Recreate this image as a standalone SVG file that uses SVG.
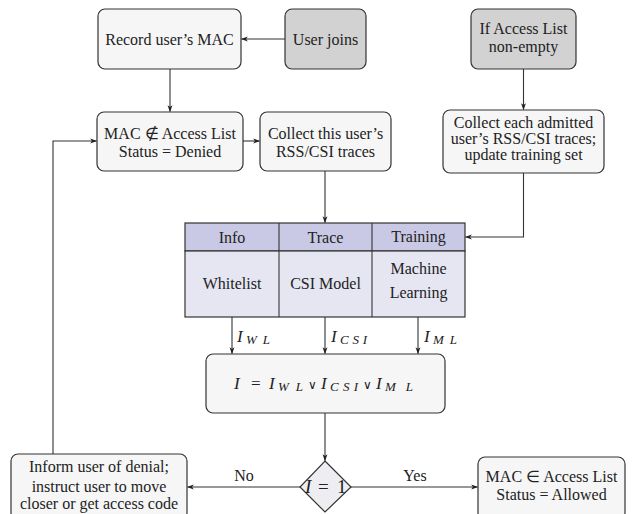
<svg xmlns="http://www.w3.org/2000/svg" width="641" height="514" viewBox="0 0 641 514">
<defs>
<marker id="ah" viewBox="0 0 10 10" refX="9" refY="5" markerWidth="7" markerHeight="7" markerUnits="userSpaceOnUse" orient="auto">
<path d="M0,1.5 L10,5 L0,8.5 L2.5,5 Z" fill="#222"/>
</marker>
</defs>
<style>
text{font-family:"Liberation Serif","Times New Roman",serif;font-size:16px;fill:#222;text-anchor:middle}
.box{fill:#f6f6f6;stroke:#333;stroke-width:1.2}
.start{fill:#d2d2d2;stroke:#333;stroke-width:1.2}
.hdr{fill:#c9c9e5;stroke:#333;stroke-width:1.2}
.body{fill:#e6e6f3;stroke:#333;stroke-width:1.2}
.line{fill:none;stroke:#333;stroke-width:1.1}
.arr{fill:none;stroke:#333;stroke-width:1.1;marker-end:url(#ah)}
text.m{font-style:italic;font-size:17px;text-anchor:start}
text.sub{font-style:italic;font-size:13px;text-anchor:start}
text.eq{font-size:17px;text-anchor:start}
text.or{font-size:12px;text-anchor:start;font-family:"DejaVu Serif",serif}
</style>
<g id="record">
<rect class="box" x="98" y="9" width="143" height="60" rx="7"/>
<text x="169.5" y="45">Record user’s MAC</text>
</g>
<g id="userjoins">
<rect class="start" x="285" y="9" width="81" height="60" rx="7"/>
<text x="325.5" y="45">User joins</text>
</g>
<g id="ifaccess">
<rect class="start" x="471" y="9" width="105" height="60" rx="7"/>
<text x="523.5" y="34">If Access List</text>
<text x="523.5" y="52">non-empty</text>
</g>
<g id="denied">
<rect class="box" x="97" y="112" width="146" height="59" rx="7"/>
<text x="170" y="139">MAC ∉ Access List</text>
<text x="170" y="157">Status = Denied</text>
</g>
<g id="collectthis">
<rect class="box" x="260" y="112" width="131" height="59" rx="7"/>
<text x="325.5" y="139">Collect this user’s</text>
<text x="325.5" y="157">RSS/CSI traces</text>
</g>
<g id="collecteach">
<rect class="box" x="443" y="110" width="161" height="63" rx="7"/>
<text x="523.5" y="128">Collect each admitted</text>
<text x="523.5" y="144">user’s RSS/CSI traces;</text>
<text x="523.5" y="160">update training set</text>
</g>
<g id="table">
<rect class="hdr" x="185" y="223" width="280" height="28"/>
<rect class="body" x="185" y="251" width="280" height="66"/>
<line class="line" x1="279" y1="223" x2="279" y2="317"/>
<line class="line" x1="372" y1="223" x2="372" y2="317"/>
<text x="232" y="243">Info</text>
<text x="325.5" y="243">Trace</text>
<text x="418.5" y="242">Training</text>
<text x="232" y="289">Whitelist</text>
<text x="325.5" y="289">CSI Model</text>
<text x="418.5" y="274">Machine</text>
<text x="418.5" y="298">Learning</text>
</g>
<g id="formula">
<rect class="box" x="206" y="354" width="239" height="59" rx="7"/>
<text class="m" x="234" y="389">I</text>
<text class="eq" x="251" y="389">=</text>
<text class="m" x="269" y="389">I</text>
<text class="sub" x="278" y="391" textLength="25" lengthAdjust="spacing">WL</text>
<text class="or" x="308" y="389">∨</text>
<text class="m" x="321" y="389">I</text>
<text class="sub" x="330" y="391" textLength="28" lengthAdjust="spacing">CSI</text>
<text class="or" x="363" y="389">∨</text>
<text class="m" x="376" y="389">I</text>
<text class="sub" x="385" y="391" textLength="28" lengthAdjust="spacing">ML</text>
</g>
<g id="decision">
<polygon points="325,461 351,487 325,512 300,487" fill="#eeeef2" stroke="#333" stroke-width="1.2"/>
<text class="m" x="305" y="493" style="font-size:19px">I</text>
<text class="eq" x="318" y="493" style="font-size:19px">=</text>
<text x="337" y="493" style="font-size:19px;text-anchor:start">1</text>
</g>
<g id="inform">
<rect class="box" x="11" y="454" width="176" height="66" rx="7"/>
<text x="99" y="472">Inform user of denial;</text>
<text x="99" y="492">instruct user to move</text>
<text x="99" y="509">closer or get access code</text>
</g>
<g id="allowed">
<rect class="box" x="478" y="457" width="147" height="63" rx="7"/>
<text x="551.5" y="482">MAC ∈ Access List</text>
<text x="551.5" y="500">Status = Allowed</text>
</g>
<g id="connectors">
<line class="arr" x1="285" y1="39" x2="241.5" y2="39"/>
<line class="arr" x1="170" y1="69" x2="170" y2="111.5"/>
<line class="arr" x1="523.5" y1="69" x2="523.5" y2="109.5"/>
<line class="arr" x1="243" y1="141" x2="259.5" y2="141"/>
<line class="arr" x1="325" y1="171" x2="325" y2="222.5"/>
<polyline class="arr" points="523.5,173 523.5,237 465.5,237"/>
<line class="arr" x1="232" y1="317" x2="232" y2="353.5"/>
<line class="arr" x1="325" y1="317" x2="325" y2="353.5"/>
<line class="arr" x1="418" y1="317" x2="418" y2="353.5"/>
<line class="arr" x1="325" y1="413" x2="325" y2="460.5"/>
<line class="arr" x1="300" y1="487" x2="187.5" y2="487"/>
<line class="arr" x1="351" y1="487" x2="477.5" y2="487"/>
<polyline class="arr" points="53,454 53,141 96.5,141"/>
<text class="m" x="237" y="342">I</text>
<text class="sub" x="246" y="344" textLength="24" lengthAdjust="spacing">WL</text>
<text class="m" x="331" y="342">I</text>
<text class="sub" x="340" y="344" textLength="27" lengthAdjust="spacing">CSI</text>
<text class="m" x="424" y="342">I</text>
<text class="sub" x="433" y="344" textLength="24" lengthAdjust="spacing">ML</text>
<text x="244" y="481">No</text>
<text x="415" y="481">Yes</text>
</g>
</svg>
